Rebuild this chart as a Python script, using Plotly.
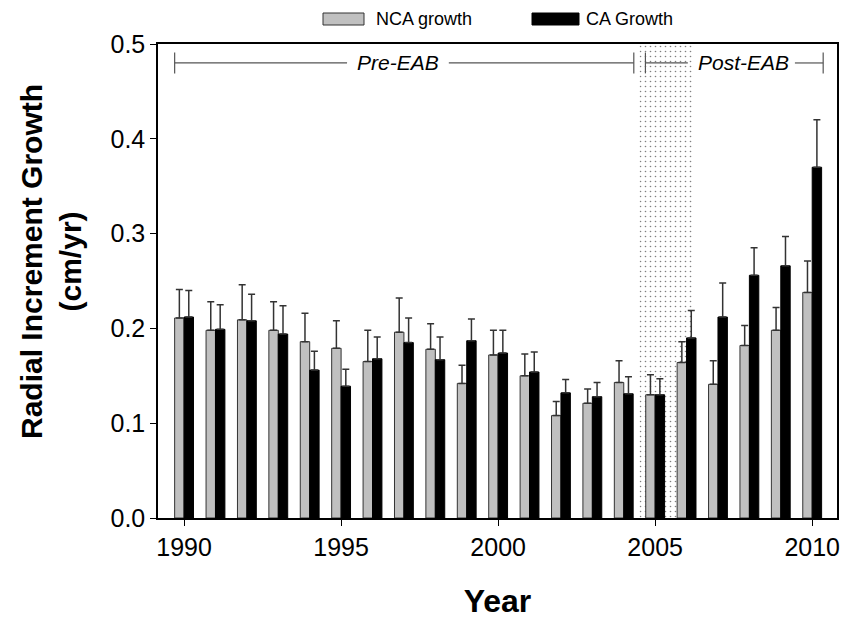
import plotly.graph_objects as go

# ---------------- data ----------------
years = list(range(1990, 2011))
nca_growth = [0.211, 0.198, 0.209, 0.198, 0.186, 0.179, 0.165, 0.196, 0.178, 0.142, 0.172,
              0.150, 0.108, 0.121, 0.143, 0.130, 0.164, 0.141, 0.182, 0.198, 0.238]
nca_err = [0.030, 0.030, 0.037, 0.030, 0.030, 0.029, 0.033, 0.036, 0.027, 0.019, 0.026,
           0.023, 0.015, 0.015, 0.023, 0.021, 0.022, 0.025, 0.021, 0.024, 0.033]
ca_growth = [0.212, 0.199, 0.208, 0.194, 0.156, 0.139, 0.168, 0.185, 0.167, 0.187, 0.174,
             0.154, 0.132, 0.128, 0.131, 0.130, 0.190, 0.212, 0.256, 0.266, 0.370]
ca_err = [0.028, 0.026, 0.028, 0.030, 0.020, 0.018, 0.023, 0.026, 0.024, 0.023, 0.024,
          0.021, 0.014, 0.015, 0.018, 0.017, 0.029, 0.036, 0.029, 0.031, 0.050]
series_names = ["NCA growth", "CA Growth"]
x_tick_vals = [1990, 1995, 2000, 2005, 2010]
eab_start, eab_end = 2004.5, 2006.2          # dotted transition period
pre_span = (1989.7, 2004.32)
post_span = (2004.69, 2010.35)

FONT = "Liberation Sans, Arial, sans-serif"
W, H = 856, 619
L, R, T, B = 158, 19, 44, 101
PW, PH = W - L - R, H - T - B


def px_x(p):
    return (p - L) / PW


def px_y(p):
    return (H - B - p) / PH


fig = go.Figure()

# dotted transition region (behind the bars)
fig.add_trace(go.Bar(
    x=[(eab_start + eab_end) / 2], y=[0.5], width=[eab_end - eab_start], base=0,
    marker=dict(color="white", line=dict(width=0),
                pattern=dict(shape=".", fgcolor="black", bgcolor="white",
                             size=5, solidity=0.08)),
    hoverinfo="skip", showlegend=False))

fig.add_trace(go.Bar(
    name=series_names[0], x=years, y=nca_growth, offset=-0.3, width=0.3,
    marker=dict(color="#c0c0c0", line=dict(color="#333333", width=1)),
    error_y=dict(type="data", array=nca_err, arrayminus=[0] * len(years), symmetric=False,
                 color="#333333", thickness=1.5, width=3.5),
    showlegend=False))

fig.add_trace(go.Bar(
    name=series_names[1], x=years, y=ca_growth, offset=0, width=0.3,
    marker=dict(color="black", line=dict(color="black", width=1)),
    error_y=dict(type="data", array=ca_err, arrayminus=[0] * len(years), symmetric=False,
                 color="#333333", thickness=1.5, width=3.5),
    showlegend=False))

shapes = []
BR_Y, BR_H = 0.48, 0.011
line_style = dict(color="#555555", width=1.2)
# bracket segments (gap around the labels)
for a, b in [(pre_span[0], 1995.19), (1998.43, pre_span[1]),
             (post_span[0], 2006.04), (2009.45, post_span[1])]:
    shapes.append(dict(type="line", xref="x", yref="y", x0=a, x1=b, y0=BR_Y, y1=BR_Y, line=line_style))
for xv in [pre_span[0], pre_span[1], post_span[0], post_span[1]]:
    shapes.append(dict(type="line", xref="x", yref="y", x0=xv, x1=xv,
                       y0=BR_Y - BR_H, y1=BR_Y + BR_H, line=line_style))

# manual legend boxes
shapes.append(dict(type="rect", xref="paper", yref="paper",
                   x0=px_x(323), x1=px_x(364), y0=px_y(25), y1=px_y(13),
                   fillcolor="#c0c0c0", line=dict(color="#333333", width=1)))
shapes.append(dict(type="rect", xref="paper", yref="paper",
                   x0=px_x(532), x1=px_x(579), y0=px_y(25), y1=px_y(13),
                   fillcolor="black", line=dict(color="black", width=1)))

annotations = [
    dict(x=1996.8, y=BR_Y, xref="x", yref="y", text="<i>Pre-EAB</i>", showarrow=False,
         font=dict(family=FONT, size=21, color="black")),
    dict(x=2007.81, y=BR_Y, xref="x", yref="y", text="<i>Post-EAB</i>", showarrow=False,
         font=dict(family=FONT, size=21, color="black")),
    dict(x=px_x(374), y=px_y(19), xref="paper", yref="paper", text=series_names[0],
         xanchor="left", yanchor="middle", showarrow=False,
         font=dict(family=FONT, size=18, color="black")),
    dict(x=px_x(584), y=px_y(19), xref="paper", yref="paper", text=series_names[1],
         xanchor="left", yanchor="middle", showarrow=False,
         font=dict(family=FONT, size=18, color="black")),
    dict(x=px_x(51), y=px_y(262), xref="paper", yref="paper",
         text="<b>Radial Increment Growth<br>(cm/yr)</b>", textangle=-90,
         xanchor="center", yanchor="middle", showarrow=False,
         font=dict(family=FONT, size=30, color="black")),
]

fig.update_layout(
    width=W, height=H,
    margin=dict(l=L, r=R, t=T, b=B, autoexpand=False),
    paper_bgcolor="white", plot_bgcolor="white",
    barmode="overlay",
    font=dict(family=FONT, color="black"),
    shapes=shapes, annotations=annotations,
    xaxis=dict(range=[1989.17, 2010.79], tickvals=x_tick_vals, ticks="outside",
               ticklen=6, tickwidth=1, tickcolor="black",
               showline=True, linecolor="black", linewidth=1.5, mirror=True,
               showgrid=False, zeroline=False,
               tickfont=dict(family=FONT, size=25, color="black"),
               title=dict(text="<b>Year</b>", standoff=31,
                          font=dict(family=FONT, size=32, color="black"))),
    yaxis=dict(range=[0, 0.5], dtick=0.1, tickformat=".1f", ticks="outside",
               ticklen=6, tickwidth=1, tickcolor="black",
               showline=True, linecolor="black", linewidth=1.5, mirror=True,
               showgrid=False, zeroline=False,
               tickfont=dict(family=FONT, size=25, color="black")),
)

fig.write_html("out.html", config={"displayModeBar": False},
               post_script="document.body.style.margin='0';document.body.style.padding='0';")
